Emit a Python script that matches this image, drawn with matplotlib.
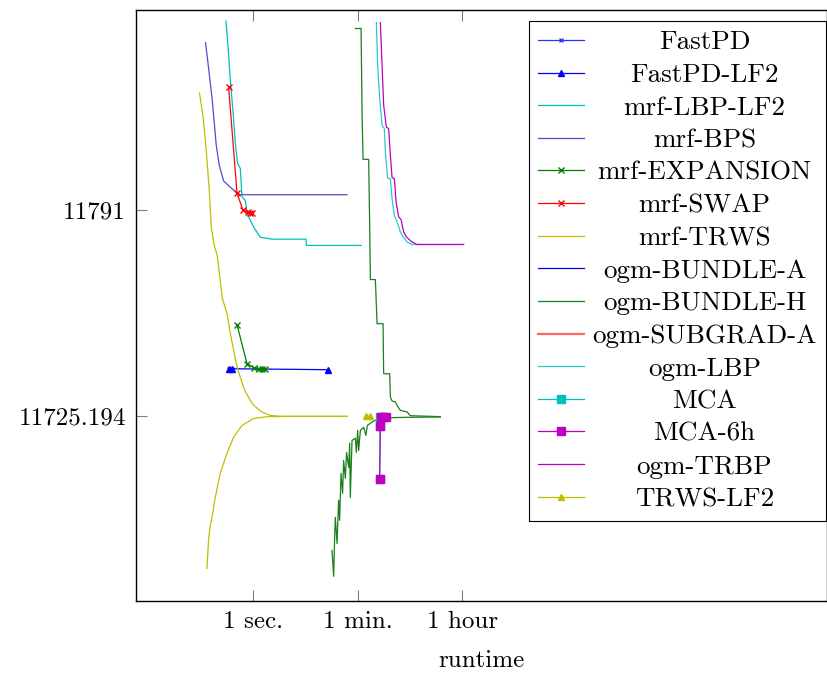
import matplotlib
matplotlib.use("Agg")
import matplotlib.pyplot as plt
import numpy as np

plt.rcParams['font.family'] = ['cmr10', 'DejaVu Serif']
plt.rcParams['axes.formatter.use_mathtext'] = True

# runtime values are stored as log10(seconds), energies as plotted values
fastpd_t = [-0.408, -0.362]
fastpd_e = [11740.4, 11740.4]

fastpd_lf2_t = [-0.408, -0.362, 1.264]
fastpd_lf2_e = [11740.4, 11740.4, 11740.1]

lbp_lf2_t = [-0.465, -0.425, -0.391, -0.340, -0.306, -0.267, -0.221, -0.192, -0.136,
             -0.107, -0.051, 0.017, 0.119, 0.318, 0.897, 0.902, 1.833]
lbp_lf2_e = [11851.5, 11842.1, 11832.6, 11821.4, 11812.4, 11806.0, 11804.4, 11795.3, 11794.2,
             11790.1, 11787.8, 11785.3, 11782.4, 11781.8, 11781.8, 11779.8, 11779.8]

bps_t = [-0.812, -0.766, -0.698, -0.630, -0.579, -0.505, -0.391, -0.277, -0.221, 1.594]
bps_e = [11844.6, 11837.3, 11826.2, 11811.8, 11805.4, 11800.4, 11798.4, 11796.5, 11796.0, 11796.0]

expansion_t = [-0.277, -0.107, 0.005, 0.090, 0.148, 0.204]
expansion_e = [11754.5, 11742.0, 11740.8, 11740.3, 11740.2, 11740.2]

swap_t = [-0.420, -0.277, -0.175, -0.097, -0.051, -0.017]
swap_e = [11830.4, 11796.5, 11791.0, 11790.4, 11790.2, 11790.2]

trws_t = [-0.914, -0.851, -0.800, -0.749, -0.715, -0.664, -0.613, -0.527, -0.448, -0.391,
          -0.277, -0.221, -0.153, -0.080, -0.022, 0.063, 0.153, 0.289, 0.459, 1.594]
trws_e = [11828.4, 11820.4, 11810.2, 11797.4, 11785.6, 11779.8, 11776.6, 11762.9, 11758.1, 11751.7,
          11740.9, 11737.7, 11733.8, 11731.3, 11729.4, 11727.8, 11726.5, 11725.5, 11725.2, 11725.2]
trws_bound_t = [-0.788, -0.761, -0.732, -0.703, -0.647, -0.562, -0.448, -0.335, -0.192,
                0.005, 0.233, 0.630, 1.594]
trws_bound_e = [11676.6, 11685.6, 11690.4, 11692.9, 11699.3, 11707.0, 11713.4, 11718.5, 11722.3,
                11724.5, 11725.1, 11725.194, 11725.194]

bundle_a_t = []
bundle_a_e = []

bundle_h_t = [1.736, 1.833, 1.850, 1.867, 1.962, 1.979, 1.991, 2.076, 2.105, 2.207, 2.217,
              2.319, 2.331, 2.360, 2.416, 2.445, 2.501, 2.615, 2.671, 3.182]
bundle_h_e = [11849.1, 11849.1, 11821.4, 11807.3, 11807.3, 11786.2, 11768.9, 11768.9, 11754.8,
              11754.8, 11738.8, 11738.8, 11731.4, 11730.1, 11729.8, 11728.7, 11727.1, 11726.6,
              11725.4, 11725.1]
bundle_h_bound_t = [1.339, 1.366, 1.387, 1.395, 1.424, 1.451, 1.468, 1.492, 1.519, 1.536, 1.565,
                    1.586, 1.622, 1.639, 1.650, 1.679, 1.736, 1.753, 1.775, 1.792, 1.821, 1.877,
                    1.914, 1.940, 1.991, 2.037, 2.105, 2.217, 2.382, 2.671, 3.182]
bundle_h_bound_e = [11682.4, 11674.1, 11688.8, 11692.9, 11684.6, 11698.4, 11692.0, 11707.0,
                    11700.6, 11711.1, 11705.4, 11713.7, 11708.9, 11716.6, 11699.3, 11717.5,
                    11718.2, 11713.7, 11720.7, 11714.3, 11720.7, 11721.7, 11719.1, 11722.3,
                    11723.0, 11723.6, 11724.1, 11724.5, 11724.8, 11724.9, 11725.0]

subgrad_a_t = []
subgrad_a_e = []

ogm_lbp_t = [2.093, 2.115, 2.149, 2.190, 2.229, 2.246, 2.285, 2.331, 2.360, 2.399, 2.455,
             2.501, 2.530, 2.615, 2.700, 3.556]
ogm_lbp_e = [11851.0, 11837.3, 11826.7, 11818.2, 11817.1, 11809.6, 11801.3, 11801.1, 11794.8,
             11789.4, 11786.8, 11784.1, 11783.0, 11780.9, 11780.1, 11780.1]

mca_t = [2.149, 2.156, 2.161]
mca_e = [11705.1, 11722.0, 11724.9]

mca6h_t = [2.149, 2.161, 2.173, 2.212, 2.255]
mca6h_e = [11705.1, 11722.0, 11724.9, 11724.9, 11724.9]

trbp_t = [2.161, 2.190, 2.217, 2.263, 2.302, 2.331, 2.360, 2.399, 2.428, 2.472, 2.513,
          2.557, 2.603, 2.700, 2.785, 3.578]
trbp_e = [11851.0, 11837.3, 11824.6, 11817.6, 11817.1, 11808.6, 11801.5, 11801.1, 11793.7,
          11788.9, 11788.1, 11784.1, 11782.5, 11780.9, 11780.1, 11780.1]

trws_lf2_t = [1.923, 1.991]
trws_lf2_e = [11725.194, 11725.194]

xtick_vals = [1, 60, 3600]
xtick_labels = ['1 sec.', '1 min.', '1 hour']
ytick_vals = [11725.194, 11791]
ytick_labels = ['11725.194', '11791']


def sec(lt):
    return 10 ** np.asarray(lt, dtype=float)


fig = plt.figure(figsize=(8.28, 6.75), dpi=100)
ax = fig.add_axes([0.1639, 0.1096, 0.8351, 0.876])
lw = 0.9
yel = '#bfbf00'

ax.plot(sec(fastpd_t), fastpd_e, color='#3333ff', lw=lw, marker='x', ms=3.5, label='FastPD')
ax.plot(sec(fastpd_lf2_t), fastpd_lf2_e, color='#0000ff', lw=lw, marker='^', ms=5, label='FastPD-LF2')
ax.plot(sec(lbp_lf2_t), lbp_lf2_e, color='#00bfbf', lw=lw, label='mrf-LBP-LF2')
ax.plot(sec(bps_t), bps_e, color='#4d4dcc', lw=lw, label='mrf-BPS')
ax.plot(sec(expansion_t), expansion_e, color='#008000', lw=lw, marker='x', ms=4, label='mrf-EXPANSION')
ax.plot(sec(swap_t), swap_e, color='#ff0000', lw=lw, marker='x', ms=4, label='mrf-SWAP')
ax.plot(sec(trws_t), trws_e, color=yel, lw=lw, label='mrf-TRWS')
ax.plot(sec(trws_bound_t), trws_bound_e, color=yel, lw=lw, label='_nolegend_')
ax.plot(sec(bundle_a_t), bundle_a_e, color='#0000ff', lw=lw, label='ogm-BUNDLE-A')
ax.plot(sec(bundle_h_t), bundle_h_e, color='#1a801a', lw=lw, label='ogm-BUNDLE-H')
ax.plot(sec(bundle_h_bound_t), bundle_h_bound_e, color='#1a801a', lw=lw, label='_nolegend_')
ax.plot(sec(subgrad_a_t), subgrad_a_e, color='#ff6666', lw=1.6, label='ogm-SUBGRAD-A')
ax.plot(sec(ogm_lbp_t), ogm_lbp_e, color='#26cccc', lw=lw, label='ogm-LBP')
ax.plot(sec(mca_t), mca_e, color='#00bfbf', lw=lw, marker='s', ms=6, label='MCA')
ax.plot(sec(mca6h_t), mca6h_e, color='#bf00bf', lw=lw, marker='s', ms=6, label='MCA-6h')
ax.plot(sec(trbp_t), trbp_e, color='#bf00bf', lw=lw, label='ogm-TRBP')
ax.plot(sec(trws_lf2_t), trws_lf2_e, color=yel, lw=lw, marker='^', ms=5, label='TRWS-LF2')

ax.set_xscale('log')
ax.set_xlim(10 ** -2.0, 10 ** 9.76)
ax.set_ylim(11666.2, 11855.1)
ax.set_xticks(xtick_vals)
ax.set_xticklabels(xtick_labels)
ax.xaxis.set_minor_locator(matplotlib.ticker.NullLocator())
ax.set_yticks(ytick_vals)
ax.set_yticklabels(ytick_labels)
ax.tick_params(which='major', direction='in', length=8, width=0.8, color='#808080',
               labelsize=18, top=True, right=True, pad=7, labelcolor='black')
ax.set_xlabel('runtime', fontsize=18, labelpad=12)
for s in ax.spines.values():
    s.set_linewidth(1.0)

leg = ax.legend(loc='upper right', bbox_to_anchor=(0.9986, 0.981), borderaxespad=0,
                fontsize=19.5, fancybox=False, edgecolor='black', framealpha=1,
                handlelength=1.7, handletextpad=0.3, labelspacing=0.32, borderpad=0.35,
                numpoints=1)
leg.get_frame().set_linewidth(0.8)

# centre the legend labels like the original
fig.canvas.draw()
texts = leg.get_texts()
widths = [t.get_window_extent().width for t in texts]
wmax = max(widths)
for t, w in zip(texts, widths):
    t.set_position(((wmax - w) / 2, 0))

fig.savefig('out.png', dpi=100)
